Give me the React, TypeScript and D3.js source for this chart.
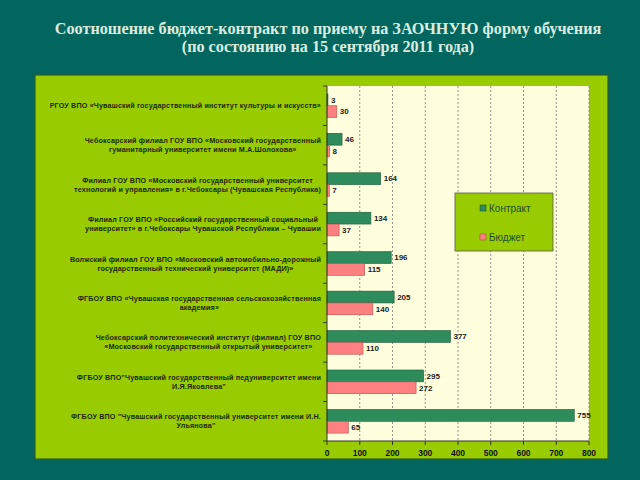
import React, { useEffect, useRef } from "react";
import * as d3 from "d3";

const titleLines = [
  "Соотношение бюджет-контракт по приему на ЗАОЧНУЮ форму обучения",
  "(по состоянию на 15 сентября 2011 года)",
];

const categories: string[][] = [
  ["РГОУ ВПО «Чувашский государственный институт культуры и искусств»"],
  ["Чебоксарский филиал ГОУ ВПО «Московский государственный", "гуманитарный университет имени М.А.Шолохова»"],
  ["Филиал ГОУ ВПО  «Московский государственный университет", "технологий и управления» в г.Чебоксары (Чувашская Республика)"],
  ["Филиал ГОУ ВПО «Российский государственный социальный", "университет» в г.Чебоксары Чувашской Республики – Чувашии"],
  ["Волжский филиал ГОУ ВПО «Московский автомобильно-дорожный", "государственный технический университет (МАДИ)»"],
  ["ФГБОУ ВПО «Чувашская государственная сельскохозяйственная", "академия»"],
  ["Чебоксарский политехнический институт (филиал) ГОУ ВПО", "«Московский государственный открытый университет»"],
  ["ФГБОУ ВПО\"Чувашский государственный педуниверситет имени", "И.Я.Яковлева\""],
  ["ФГБОУ ВПО \"Чувашский государственный университет имени И.Н.", "Ульянова\""],
];

const contract = [3, 46, 164, 134, 196, 205, 377, 295, 755];
const budget = [30, 8, 7, 37, 115, 140, 110, 272, 65];

const seriesNames = ["Контракт", "Бюджет"];
const xTicks = [0, 100, 200, 300, 400, 500, 600, 700, 800];

export default function App() {
  const ref = useRef<SVGSVGElement>(null);

  useEffect(() => {
    const svg = d3.select(ref.current);
    svg.selectAll("*").remove();

    const W = 640, H = 480;
    svg.append("rect").attr("width", W).attr("height", H).attr("fill", "#02665f");

    // title
    const title = svg.append("g");
    titleLines.forEach((t, i) => {
      title.append("text")
        .attr("x", 328).attr("y", 34 + i * 18)
        .attr("text-anchor", "middle")
        .attr("font-family", "Liberation Serif, serif")
        .attr("font-weight", "bold")
        .attr("font-size", 16.2)
        .attr("fill", "#dcecdf")
        .text(t);
    });

    // panel
    svg.append("rect")
      .attr("x", 35).attr("y", 75).attr("width", 573).attr("height", 384)
      .attr("fill", "#99cc00").attr("stroke", "#2f5a30").attr("stroke-width", 1.2);

    const left = 327, right = 589, top = 86, bottom = 441;
    const x = d3.scaleLinear().domain([0, 800]).range([left, right]);
    const idx = categories.map((_, i) => i);
    const y = d3.scaleBand<number>().domain(idx).range([top, bottom])
      .paddingInner(0.4).paddingOuter(0.2);
    const ySub = d3.scaleBand<string>().domain(seriesNames).range([0, y.bandwidth()]);

    // plot area
    svg.append("rect")
      .attr("x", left).attr("y", top).attr("width", right - left).attr("height", bottom - top)
      .attr("fill", "#ffffdd");

    // grid
    svg.append("g").selectAll("line").data(xTicks.slice(1)).join("line")
      .attr("x1", d => x(d)).attr("x2", d => x(d))
      .attr("y1", top).attr("y2", bottom)
      .attr("stroke", "#777").attr("stroke-width", 0.8)
      .attr("stroke-dasharray", "2,2");

    const colors: Record<string, string> = { "Контракт": "#2e8b5c", "Бюджет": "#ff8080" };
    const strokes: Record<string, string> = { "Контракт": "#1d5a3a", "Бюджет": "#b05050" };
    const data = [contract, budget];

    seriesNames.forEach((s, si) => {
      const g = svg.append("g");
      g.selectAll("rect").data(data[si]).join("rect")
        .attr("x", x(0))
        .attr("y", (_, i) => (y(i) as number) + (ySub(s) as number))
        .attr("width", d => x(d) - x(0))
        .attr("height", ySub.bandwidth())
        .attr("fill", colors[s])
        .attr("stroke", strokes[s]).attr("stroke-width", 0.6);
      g.selectAll("text").data(data[si]).join("text")
        .attr("x", d => x(d) + 3)
        .attr("y", (_, i) => (y(i) as number) + (ySub(s) as number) + ySub.bandwidth() / 2)
        .attr("dy", "0.35em")
        .attr("font-family", "Liberation Sans, Arial, sans-serif")
        .attr("font-size", 8)
        .attr("font-weight", "bold")
        .attr("fill", "#222")
        .text(d => String(d));
    });

    // axes
    const axisColor = "#333";
    svg.append("line").attr("x1", left).attr("x2", left).attr("y1", top).attr("y2", bottom)
      .attr("stroke", axisColor).attr("stroke-width", 1);
    svg.append("line").attr("x1", left).attr("x2", right).attr("y1", bottom).attr("y2", bottom)
      .attr("stroke", axisColor).attr("stroke-width", 1);
    const step = y.step();
    svg.append("g").selectAll("line").data(d3.range(categories.length + 1)).join("line")
      .attr("x1", left - 4).attr("x2", left)
      .attr("y1", i => top + i * step).attr("y2", i => top + i * step)
      .attr("stroke", axisColor);
    svg.append("g").selectAll("line").data(xTicks).join("line")
      .attr("x1", d => x(d)).attr("x2", d => x(d))
      .attr("y1", bottom).attr("y2", bottom + 4)
      .attr("stroke", axisColor);
    svg.append("g").selectAll("text").data(xTicks).join("text")
      .attr("x", d => x(d)).attr("y", bottom + 15)
      .attr("text-anchor", "middle")
      .attr("font-family", "Liberation Sans, Arial, sans-serif")
      .attr("font-size", 8.5).attr("font-weight", "bold").attr("fill", "#111")
      .text(d => String(d));

    // category labels
    categories.forEach((lines, i) => {
      const cy = (y(i) as number) + y.bandwidth() / 2;
      const g = svg.append("g");
      const lh = 9;
      const ts = lines.map((t, li) =>
        g.append("text")
          .attr("x", 0)
          .attr("y", cy + (li - (lines.length - 1) / 2) * lh)
          .attr("dy", "0.35em")
          .attr("text-anchor", "middle")
          .attr("font-family", "Liberation Sans, Arial, sans-serif")
          .attr("font-size", 7.2)
          .attr("letter-spacing", 0.15)
          .attr("font-weight", "bold")
          .attr("fill", "#1a2a00")
          .text(t)
      );
      const w = d3.max(ts, t => (t.node() as SVGTextElement).getComputedTextLength()) || 0;
      const rx = left - 6;
      g.attr("transform", `translate(${rx - w / 2},0)`);
    });

    // legend
    const lg = svg.append("g");
    lg.append("rect").attr("x", 455).attr("y", 193).attr("width", 98).attr("height", 58)
      .attr("fill", "#99cc00").attr("stroke", "#555").attr("stroke-width", 0.8);
    seriesNames.forEach((s, i) => {
      const ly = 208 + i * 29;
      lg.append("rect").attr("x", 480).attr("y", ly - 3).attr("width", 6).attr("height", 6)
        .attr("fill", colors[s]).attr("stroke", strokes[s]).attr("stroke-width", 0.6);
      lg.append("text").attr("x", 489).attr("y", ly).attr("dy", "0.35em")
        .attr("font-family", "Liberation Sans, Arial, sans-serif")
        .attr("font-size", 10).attr("fill", "#1d4d30")
        .text(s);
    });
  }, []);

  return (
    <svg ref={ref} width={640} height={480}
      style={{ position: "absolute", left: 0, top: 0, display: "block" }} />
  );
}
